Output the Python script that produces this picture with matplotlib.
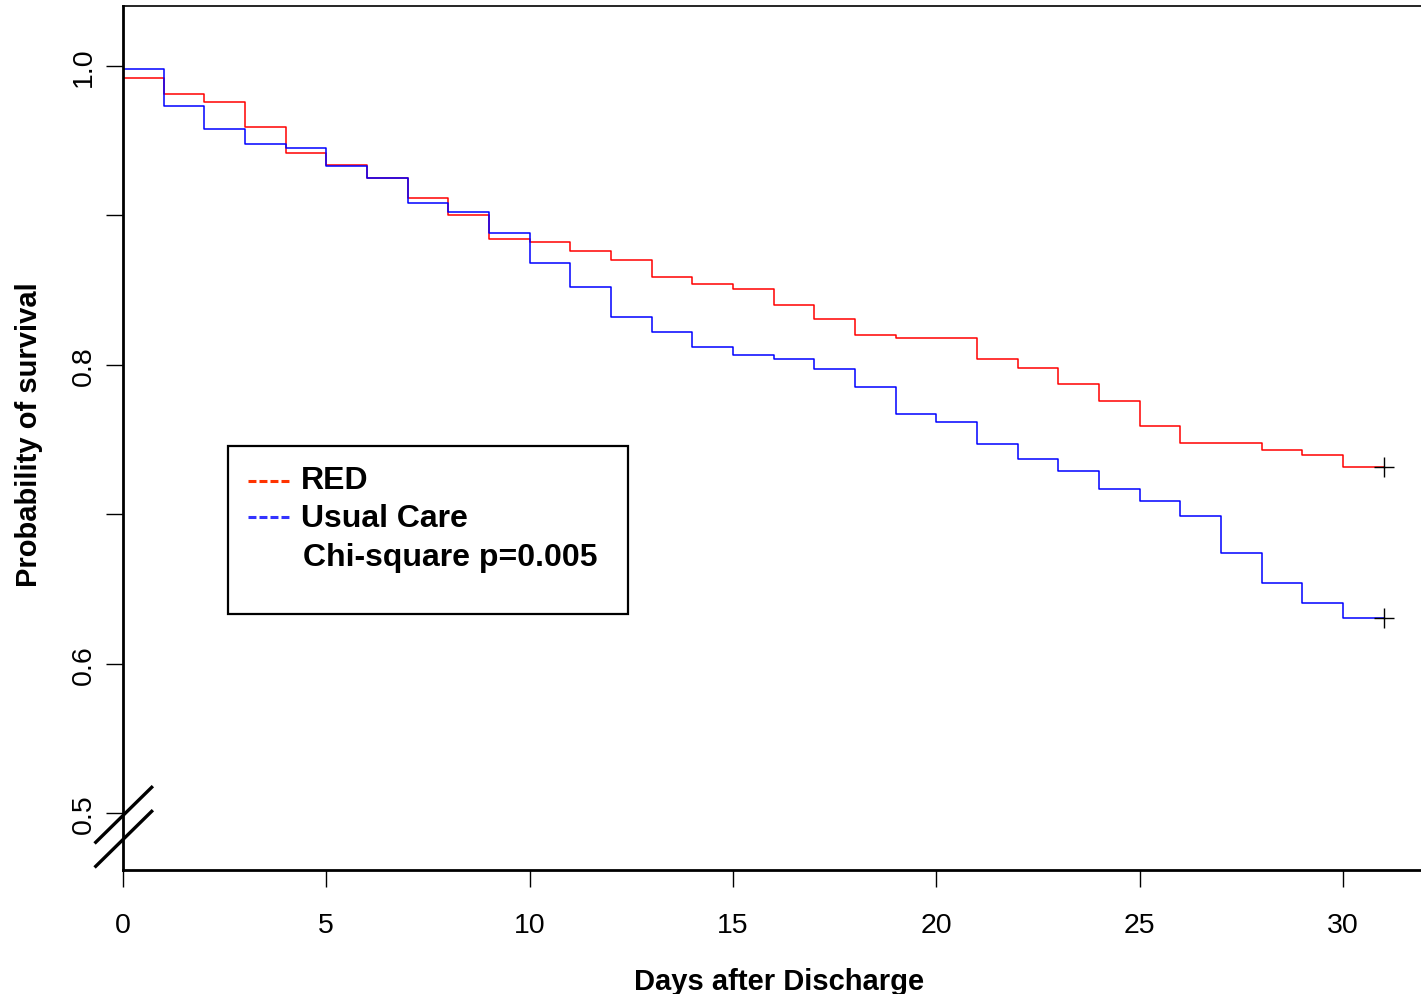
import matplotlib.pyplot as plt
import numpy as np
from matplotlib.patches import Rectangle
from matplotlib.lines import Line2D

plt.rcParams['font.family'] = ['Liberation Sans', 'DejaVu Sans']

# survival level on each day interval [d, d+1)
days = np.arange(0, 32)
red_surv = [0.992, 0.981, 0.976, 0.959, 0.942, 0.934, 0.925, 0.912, 0.9005, 0.884,
            0.882, 0.876, 0.870, 0.859, 0.854, 0.851, 0.840, 0.831, 0.820, 0.818,
            0.818, 0.804, 0.798, 0.787, 0.776, 0.759, 0.748, 0.748, 0.743, 0.740,
            0.732]
usual_surv = [0.998, 0.973, 0.958, 0.948, 0.945, 0.933, 0.925, 0.908, 0.902, 0.888,
              0.868, 0.852, 0.832, 0.822, 0.812, 0.807, 0.804, 0.797, 0.785, 0.767,
              0.762, 0.747, 0.737, 0.729, 0.717, 0.709, 0.699, 0.674, 0.654, 0.641,
              0.631]

ytick_vals = [0.5, 0.6, 0.7, 0.8, 0.9, 1.0]
ytick_labels = ['0.5', '0.6', '', '0.8', '', '1.0']
xtick_vals = [0, 5, 10, 15, 20, 25, 30]

fig = plt.figure(figsize=(14.21, 9.95), dpi=100)
ax = fig.add_axes([123 / 1421, 1 - 871 / 995, 1298 / 1421, 864 / 995])


def km_xy(levels):
    x = np.concatenate([[0], days])
    y = np.concatenate([[1.0], levels, [levels[-1]]])
    return x, y


x, y = km_xy(red_surv)
ax.step(x, y, where='post', color='#ff0000', lw=1.1)
x, y = km_xy(usual_surv)
ax.step(x, y, where='post', color='#0000ff', lw=1.1)

# censoring marks at the end of follow-up
ax.plot([days[-1]], [red_surv[-1]], marker='+', color='black', ms=15, mew=1)
ax.plot([days[-1]], [usual_surv[-1]], marker='+', color='black', ms=15, mew=1)

ax.set_xlim(0, 31.92)
ax.set_ylim(0.4622, 1.0401)
ax.set_xticks(xtick_vals)
ax.set_yticks(ytick_vals)
ax.set_yticklabels(ytick_labels, rotation=90, va='center')
ax.tick_params(axis='x', length=12, width=1, pad=18.5, labelsize=20.5)
ax.tick_params(axis='y', length=12, width=1, pad=7, labelsize=20.5)

for s in ['left', 'bottom']:
    ax.spines[s].set_linewidth(2)
ax.spines['top'].set_linewidth(1.2)
ax.spines['right'].set_visible(False)

ax.set_xlabel('Days after Discharge', fontsize=21, fontweight='bold', labelpad=20.7)
ax.set_ylabel('Probability of survival', fontsize=21, fontweight='bold', labelpad=20)
ax.xaxis.label.set_x(0.5054)
ax.yaxis.label.set_y(0.5046)

# axis break marks
for dy in [0.0, 0.0278]:
    ax.add_line(Line2D([-0.021, 0.0221], [0.0321 - dy, 0.0957 - dy],
                       transform=ax.transAxes, color='black', lw=2.4, clip_on=False))

# legend box
ax.add_patch(Rectangle((0.0809, 0.2963), 0.3081, 0.1944, transform=ax.transAxes,
                       fill=False, ec='black', lw=1.6))
ax.add_line(Line2D([0.0963, 0.1287], [0.4505, 0.4505], transform=ax.transAxes,
                   color='#ff3300', lw=2.2, dashes=(2.6, 1.0)))
ax.add_line(Line2D([0.0963, 0.1287], [0.408, 0.408], transform=ax.transAxes,
                   color='#3333ff', lw=2.2, dashes=(2.6, 1.0)))
ax.text(0.1371, 0.4514, 'RED', transform=ax.transAxes, fontsize=23,
        fontweight='bold', va='center')
ax.text(0.1371, 0.4074, 'Usual Care', transform=ax.transAxes, fontsize=23,
        fontweight='bold', va='center')
ax.text(0.1387, 0.3622, 'Chi-square p=0.005', transform=ax.transAxes, fontsize=23,
        fontweight='bold', va='center')

fig.savefig('out.png', dpi=100)
